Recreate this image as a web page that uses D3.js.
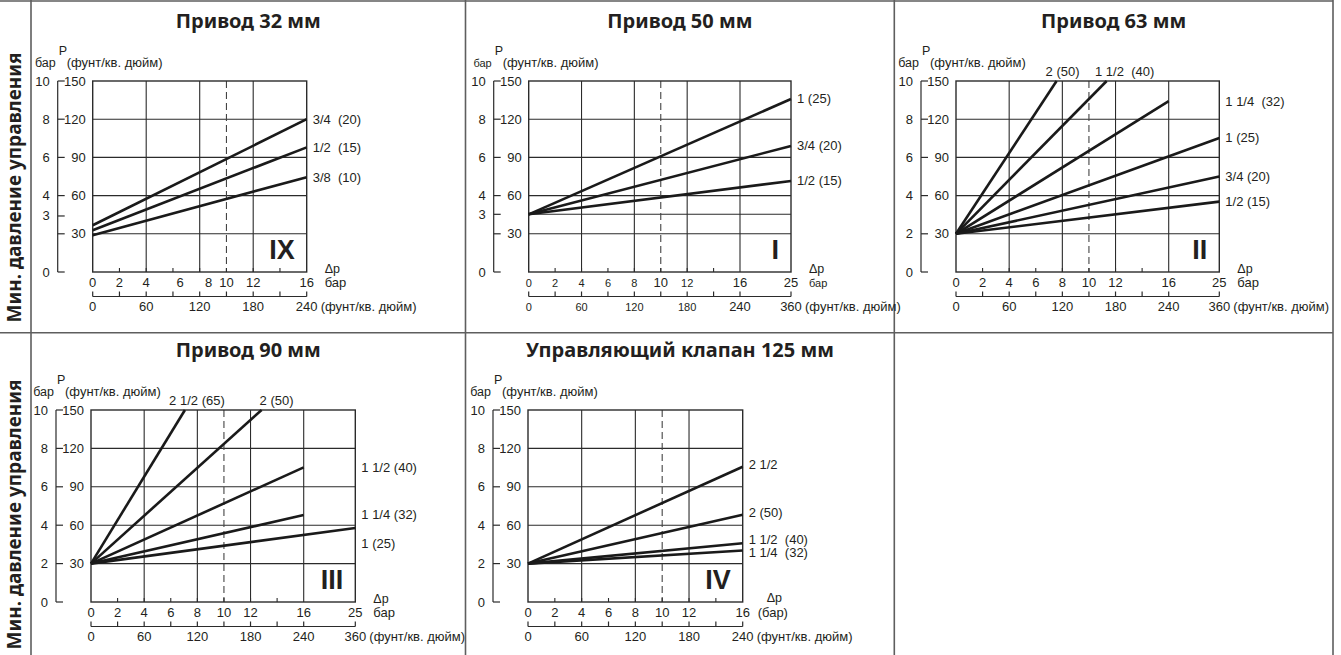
<!DOCTYPE html>
<meta charset="utf-8">
<body style="margin:0;background:#fff">
<div id="div-svg"></div>
<style>
  text { fill: #231f20; white-space: pre; }
  .title { font-family: 'Noto Sans', sans-serif; font-weight: bold; font-size: 20px; }
  .side { font-family: 'Noto Sans', sans-serif; font-weight: bold; font-size: 19px; }
  .num { font-family: 'Liberation Sans', Arial, sans-serif; font-weight: bold; font-size: 27px; }
</style>
<script src="https://cdnjs.cloudflare.com/ajax/libs/d3/7.8.5/d3.min.js"></script>
<script>
// ---------- data ----------
var titles = ["Привод 32 мм", "Привод 50 мм", "Привод 63 мм", "Привод 90 мм", "Управляющий клапан 125 мм"];
var numerals = ["IX", "I", "II", "III", "IV"];
var sideLabel = "Мин. давление управления";
var xMaxPsi = [240, 360, 360, 360, 240];

// x axis: bar labels sit at psi positions
var barTicks240 = ["0", "2", "4", "6", "8", "10", "12", "16"];
var barTicks360 = ["0", "2", "4", "6", "8", "10", "12", "16", "25"];
var barPos240 = [0, 30, 60, 90, 120, 150, 180, 240];
var barPos32 = [0, 30, 60, 98, 130, 150, 180, 240];
var barPos360 = [0, 30, 60, 90, 120, 150, 180, 240, 360];
var psiTicks240 = [0, 60, 120, 180, 240];
var psiTicks360 = [0, 60, 120, 180, 240, 360];

// y axis: psi labels and bar labels
var yPsiLabels = [150, 120, 90, 60, 30];
var yBarLabels = ["10", "8", "6", "4", "2", "0"];
var yBarLabelsLow = ["10", "8", "6", "4", "3", "0"];

// series: points are [Δp in psi, P in psi]
var s32Names = ["3/4  (20)", "1/2  (15)", "3/8  (10)"];
var s32Points = [[[0, 36.7], [240, 120]], [[0, 32.8], [240, 97.9]], [[0, 28.9], [240, 74.5]]];

var s50Names = ["1 (25)", "3/4 (20)", "1/2 (15)"];
var s50Points = [[[0, 45.3], [360, 135.9]], [[0, 45.3], [360, 99]], [[0, 45.3], [360, 71.5]]];

var s63Names = ["2 (50)", "1 1/2  (40)", "1 1/4  (32)", "1 (25)", "3/4 (20)", "1/2 (15)"];
var s63Points = [[[0, 30], [113.5, 150]], [[0, 30], [170, 150]], [[0, 30], [240, 134.2]],
                 [[0, 30], [360, 105.3]], [[0, 30], [360, 75]], [[0, 30], [360, 55.3]]];

var s90Names = ["2 1/2 (65)", "2 (50)", "1 1/2 (40)", "1 1/4 (32)", "1 (25)"];
var s90Points = [[[0, 30], [106, 150]], [[0, 30], [192.5, 150]], [[0, 30], [240, 105.2]],
                 [[0, 30], [240, 68]], [[0, 30], [360, 57.8]]];

var s125Names = ["2 1/2", "2 (50)", "1 1/2  (40)", "1 1/4  (32)"];
var s125Points = [[[0, 30], [240, 105.7]], [[0, 30], [240, 68.2]], [[0, 30], [240, 45.9]], [[0, 30], [240, 40.2]]];

// ---------- layout ----------
var width = 1341, height = 655;
var colX = [31, 465.5, 894.3, 1333];
var rowY = [1, 332.7];
var titleY = [27.5, 357];
var plotTop = [81, 410];
var plotBottom = [272, 602];
var sideY = [187.5, 514.5];

var panels = [
  {row: 0, col: 0, left: 92.7, w240: 214, wExtra: 0, names: s32Names, pts: s32Points,
   barLabels: barTicks240, barPos: barPos32, psiTicks: psiTicks240, yBar: yBarLabelsLow, low: 44, lowGrid: false, dy: [], dx: []},
  {row: 0, col: 1, left: 528.7, w240: 211.3, wExtra: 51, names: s50Names, pts: s50Points,
   barLabels: barTicks360, barPos: barPos360, psiTicks: psiTicks360, yBar: yBarLabelsLow, low: 45.3, lowGrid: true, dy: [], dx: [],
   small: true},
  {row: 0, col: 2, left: 956, w240: 212.7, wExtra: 50.6, names: s63Names, pts: s63Points,
   barLabels: barTicks360, barPos: barPos360, psiTicks: psiTicks360, yBar: yBarLabels, low: 30, lowGrid: false, dy: [], dx: [-6, 6]},
  {row: 1, col: 0, left: 91, w240: 212.7, wExtra: 51.6, names: s90Names, pts: s90Points,
   barLabels: barTicks360, barPos: barPos360, psiTicks: psiTicks360, yBar: yBarLabels, low: 30, lowGrid: false, dy: [0, 0, 0, 0, 15], dx: [0, 3]},
  {row: 1, col: 1, left: 528, w240: 214.7, wExtra: 0, names: s125Names, pts: s125Points,
   barLabels: barTicks240, barPos: barPos240, psiTicks: psiTicks240, yBar: yBarLabels, low: 30, lowGrid: false, dy: [-2, -2, -4, 2], dx: [],
   barUnitInline: true}
];

var svg = d3.select("#div-svg").append("svg")
    .attr("width", width)
    .attr("height", height)
    .style("font-family", "'Liberation Sans', Arial, sans-serif");

// frame
var frame = svg.append("g").attr("stroke", "#5e5e5e").attr("stroke-width", 1.6);
frame.selectAll("line.h").data(rowY).enter().append("line")
    .attr("x1", 0).attr("x2", colX[3]).attr("y1", function(d){return d;}).attr("y2", function(d){return d;});
frame.selectAll("line.v").data(colX).enter().append("line")
    .attr("y1", 0).attr("y2", height).attr("x1", function(d){return d;}).attr("x2", function(d){return d;});

// side labels
svg.selectAll("text.side").data(sideY).enter().append("text")
    .attr("class", "side")
    .attr("text-anchor", "middle")
    .attr("transform", function(d){return "translate(21," + d + ") rotate(-90)";})
    .text(sideLabel);

panels.forEach(drawPanel);

function drawPanel(p, i) {
  var g = svg.append("g");
  var top = plotTop[p.row], bottom = plotBottom[p.row];
  var maxPsi = xMaxPsi[i];
  var L = p.left, R = L + p.w240 + p.wExtra;
  var x = d3.scaleLinear()
      .domain(maxPsi > 240 ? [0, 240, 360] : [0, 240])
      .range(maxPsi > 240 ? [L, L + p.w240, R] : [L, R]);
  var y = d3.scaleLinear().domain([0, 150]).range([bottom, top]);
  var fs = function(big) { return p.small && !big ? "11px" : "13px"; };

  // title
  g.append("text").attr("class", "title")
      .attr("x", (colX[p.col] + colX[p.col + 1]) / 2).attr("y", titleY[p.row])
      .attr("text-anchor", "middle").text(titles[i]);

  // horizontal grid
  var hGrid = [30, 60, 90, 120];
  if (p.lowGrid) hGrid.push(p.low);
  g.selectAll("line.hg").data(hGrid).enter().append("line")
      .attr("x1", L).attr("x2", R)
      .attr("y1", function(d){return y(d);}).attr("y2", function(d){return y(d);})
      .attr("stroke", "#2b2b2b").attr("stroke-width", 1.1);

  // vertical grid
  var vGrid = maxPsi > 240 ? [60, 120, 180, 240] : [60, 120, 180];
  g.selectAll("line.vg").data(vGrid).enter().append("line")
      .attr("y1", top).attr("y2", bottom)
      .attr("x1", function(d){return x(d);}).attr("x2", function(d){return x(d);})
      .attr("stroke", "#2b2b2b").attr("stroke-width", 1.1);

  // dashed 10 bar line
  g.append("line").attr("x1", x(150)).attr("x2", x(150)).attr("y1", top).attr("y2", bottom)
      .attr("stroke", "#444").attr("stroke-width", 1.1).attr("stroke-dasharray", "7,4");

  // bottom small ticks
  g.selectAll("line.bt").data(d3.range(30, 240, 30)).enter().append("line")
      .attr("x1", function(d){return x(d);}).attr("x2", function(d){return x(d);})
      .attr("y1", bottom).attr("y2", bottom - 4)
      .attr("stroke", "#2b2b2b").attr("stroke-width", 1.1);

  // border
  g.append("rect").attr("x", L).attr("y", top).attr("width", R - L).attr("height", bottom - top)
      .attr("fill", "none").attr("stroke", "#2b2b2b").attr("stroke-width", 1.4);

  // series
  var line = d3.line().x(function(d){return x(d[0]);}).y(function(d){return y(d[1]);});
  g.selectAll("path.s").data(p.pts).enter().append("path")
      .attr("d", line).attr("fill", "none").attr("stroke", "#1a1a1a").attr("stroke-width", 2.6);

  // series labels
  p.names.forEach(function(name, k) {
    var end = p.pts[k][p.pts[k].length - 1];
    var t = g.append("text").attr("font-size", "13px").text(name);
    if (end[1] >= 150) {
      t.attr("x", x(end[0]) + 12 + (p.dx[k] || 0)).attr("y", top - 5).attr("text-anchor", "middle");
    } else {
      t.attr("x", R + 6).attr("y", y(end[1]) + (p.dy[k] || 0)).attr("dominant-baseline", "central");
    }
  });

  // numeral
  g.append("text").attr("class", "num").attr("x", R - 12).attr("y", bottom - 13)
      .attr("text-anchor", "end").text(numerals[i]);

  // left axis
  var ax = L - 35;
  var yTicks = [150, 120, 90, 60, 30, 0];
  if (p.low !== 30) yTicks.push(p.low);
  g.append("line").attr("x1", ax).attr("x2", ax).attr("y1", y(0)).attr("y2", y(150))
      .attr("stroke", "#2b2b2b").attr("stroke-width", 1.2);
  g.selectAll("line.yt").data(yTicks).enter().append("line")
      .attr("x1", ax).attr("x2", ax + 7)
      .attr("y1", function(d){return y(d);}).attr("y2", function(d){return y(d);})
      .attr("stroke", "#2b2b2b").attr("stroke-width", 1.2);
  var barPosY = [150, 120, 90, 60, p.low, 0];
  g.selectAll("text.yb").data(p.yBar).enter().append("text")
      .attr("x", ax - 8).attr("y", function(d, k){return y(barPosY[k]);})
      .attr("text-anchor", "end").attr("dominant-baseline", "central").attr("font-size", "13px")
      .text(function(d){return d;});
  g.selectAll("text.yp").data(yPsiLabels).enter().append("text")
      .attr("x", L - 7).attr("y", function(d){return y(d);})
      .attr("text-anchor", "end").attr("dominant-baseline", "central").attr("font-size", "13px")
      .text(function(d){return d;});

  // y header
  g.append("text").attr("x", ax + 1).attr("y", top - 26).attr("font-size", "12.5px").text("P");
  g.append("text").attr("x", ax - 2).attr("y", top - 14).attr("text-anchor", "end")
      .attr("font-size", p.small ? "11px" : "12.5px").text("бар");
  g.append("text").attr("x", ax + 9).attr("y", top - 14).attr("font-size", "13px").text("(фунт/кв. дюйм)");

  // bar labels on x
  g.selectAll("text.xb").data(p.barLabels).enter().append("text")
      .attr("x", function(d, k){return x(p.barPos[k]);}).attr("y", bottom + 15)
      .attr("text-anchor", "middle")
      .attr("font-size", function(d){return fs(d === "10" || d === "16" || d === "25");})
      .text(function(d){return d;});
  if (p.barUnitInline) {
    g.append("text").attr("x", R + 15).attr("y", bottom + 15).attr("font-size", "13px").text("(бар)");
    g.append("text").attr("x", R + 24).attr("y", bottom).attr("font-size", "12.5px").text("Δp");
  } else {
    g.append("text").attr("x", R + 18).attr("y", bottom + 1).attr("font-size", "12.5px").text("Δp");
    g.append("text").attr("x", R + 18).attr("y", bottom + 15).attr("font-size", p.small ? "11px" : "13px").text("бар");
  }

  // psi axis under the plot
  var py = bottom + 24.5;
  var psiTickAll = d3.range(0, 241, 30);
  if (maxPsi > 240) psiTickAll.push(360);
  g.append("line").attr("x1", L).attr("x2", R).attr("y1", py).attr("y2", py)
      .attr("stroke", "#2b2b2b").attr("stroke-width", 1.2);
  g.selectAll("line.pt").data(psiTickAll).enter().append("line")
      .attr("x1", function(d){return x(d);}).attr("x2", function(d){return x(d);})
      .attr("y1", py).attr("y2", py - 5)
      .attr("stroke", "#2b2b2b").attr("stroke-width", 1.2);
  g.selectAll("text.pl").data(p.psiTicks).enter().append("text")
      .attr("x", function(d){return x(d);}).attr("y", bottom + 39)
      .attr("text-anchor", "middle")
      .attr("font-size", function(d){return fs(d >= 240);})
      .text(function(d){return d;});
  g.append("text").attr("x", R + 14).attr("y", bottom + 39).attr("font-size", "13px").text("(фунт/кв. дюйм)");
}
</script>
</body>
